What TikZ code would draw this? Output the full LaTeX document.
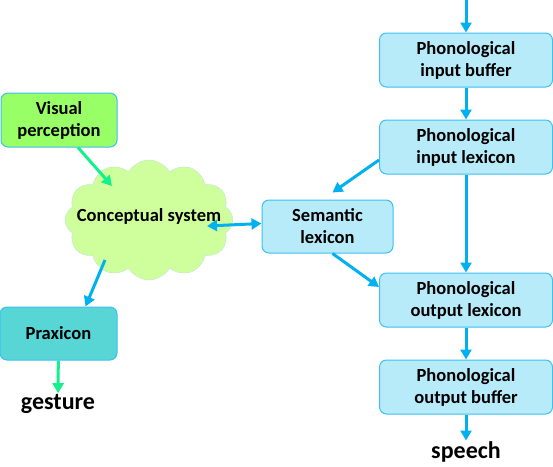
\documentclass[tikz,border=0pt]{standalone}
\usepackage{fontspec}
\setmainfont{Carlito}
\usetikzlibrary{shapes.symbols,arrows.meta}

\definecolor{boxfill}{RGB}{183,235,250}
\definecolor{boxline}{RGB}{60,192,240}
\definecolor{arrowblue}{RGB}{0,176,240}
\definecolor{visfill}{RGB}{153,255,102}
\definecolor{praxfill}{RGB}{88,214,214}
\definecolor{cloudfill}{RGB}{206,255,156}
\definecolor{cloudline}{RGB}{190,228,214}
\definecolor{arrowgreen}{RGB}{20,240,140}

\tikzset{
  barrow/.style={draw=arrowblue, line width=3, -{Triangle[length=10,width=11]}},
  garrow/.style={draw=arrowgreen, line width=3, -{Triangle[length=10,width=11]}},
  bigword/.style={font=\bfseries\fontsize{24}{28}\selectfont, inner sep=1}
}

\begin{document}
\begin{tikzpicture}[x=1pt,y=-1pt,font=\bfseries\fontsize{18.5}{22}\selectfont]
  \useasboundingbox (0,0) rectangle (553,466);

      \begin{scope}[every node/.style={draw=boxline, fill=boxfill, line width=1, rounded corners=7, align=center, minimum width=173, minimum height=54}]
        \node (inbuf)  at (466,60)  {Phonological\\input buffer};
        \node (inlex)  at (466,147) {Phonological\\input lexicon};
        \node (outlex) at (466,300) {Phonological\\output lexicon};
        \node (outbuf) at (466,387) {Phonological\\output buffer};
        \node[minimum width=131, minimum height=53] (sem) at (327.5,226.5) {Semantic\\lexicon};
        \node[fill=visfill, minimum width=116] (vis) at (59,120) {Visual\\perception};
        \node[fill=praxfill, minimum width=117, minimum height=53] (prax) at (58.5,333.5) {Praxicon};
      \end{scope}

      \node[cloud, cloud puffs=12, cloud puff arc=120, aspect=1.4, draw=cloudline, fill=cloudfill,
            minimum width=168, minimum height=120] (concept) at (149,220)
            {\makebox[0pt]{\raisebox{10pt}{Conceptual system}}};

      \node[bigword] (gesture) at (58,404) {gesture};
      \node[bigword] (speech)  at (466,452) {speech};
      \coordinate (hearing) at (466,0);

      % speech route
      \draw[barrow] (hearing) -- (inbuf.north);
      \draw[barrow] (inbuf) -- (inlex);
      \draw[barrow] (inlex) -- (outlex);
      \draw[barrow] (outlex) -- (outbuf);
      \draw[barrow] (outbuf) -- (speech);
      \draw[barrow] ([yshift=-13]inlex.west) -- ([xshift=5,yshift=7]sem.north);
      \draw[barrow] ([xshift=5]sem.south) -- ([yshift=13]outlex.west);

      % conceptual side
      \draw[barrow, {Triangle[length=10,width=11]}-{Triangle[length=10,width=11]}]
            ([xshift=58,yshift=-6]concept.center) -- ([yshift=3]sem.west);
      \draw[barrow] ([xshift=-44,yshift=-40]concept.center) -- ([xshift=27]prax.north);
      \draw[garrow] ([xshift=19]vis.south) -- ([xshift=-37,yshift=34]concept.center);
      \draw[garrow] (prax) -- (gesture);

    \end{tikzpicture}
\end{document}
